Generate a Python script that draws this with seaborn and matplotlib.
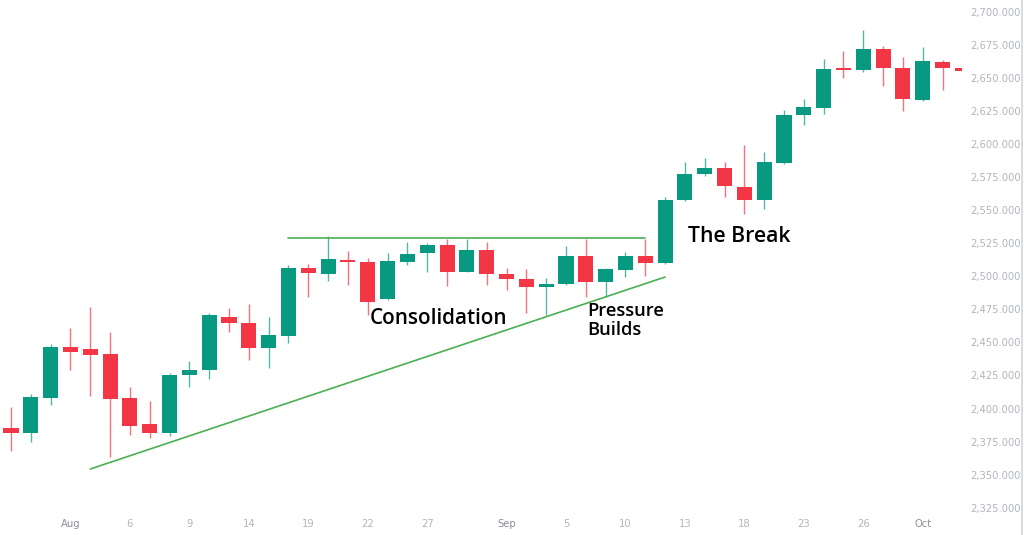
import matplotlib
matplotlib.use("Agg")
import matplotlib.pyplot as plt
import matplotlib.lines as mlines
import numpy as np
import pandas as pd
import seaborn as sns

# ---- data (XAUUSD daily, 2024-07-29 .. 2024-10-03) ----
opens = [2385.5, 2381.5, 2408.0, 2446.5, 2445.0, 2441.0, 2408.0, 2388.0, 2381.5, 2425.0,
         2429.0, 2469.0, 2465.0, 2445.5, 2455.0, 2506.5, 2502.0, 2512.5, 2510.5, 2483.0,
         2511.0, 2517.5, 2523.5, 2503.0, 2519.5, 2502.0, 2498.0, 2491.5, 2494.0, 2515.5,
         2496.0, 2505.0, 2515.5, 2510.0, 2557.5, 2577.0, 2581.5, 2567.5, 2557.5, 2585.5,
         2621.5, 2627.5, 2657.2, 2656.0, 2671.5, 2657.5, 2633.0, 2662.0, 2657.5]
highs = [2401.0, 2411.0, 2449.0, 2461.0, 2476.5, 2457.5, 2416.5, 2405.5, 2426.5, 2436.0,
         2472.0, 2476.0, 2479.0, 2469.0, 2508.5, 2509.0, 2530.5, 2519.0, 2514.0, 2517.5,
         2526.0, 2525.0, 2528.0, 2528.0, 2526.0, 2506.0, 2505.5, 2499.0, 2522.5, 2528.5,
         2506.0, 2518.0, 2528.5, 2560.0, 2586.0, 2589.5, 2586.0, 2599.5, 2594.0, 2625.5,
         2634.0, 2664.0, 2670.5, 2686.0, 2674.0, 2666.0, 2673.5, 2663.5, 2658.0]
lows = [2368.0, 2375.0, 2402.5, 2429.0, 2409.5, 2363.0, 2380.0, 2378.0, 2379.5, 2416.0,
        2422.5, 2457.5, 2436.5, 2431.0, 2449.5, 2484.5, 2496.5, 2493.5, 2470.5, 2482.0,
        2508.5, 2503.0, 2493.0, 2503.0, 2493.5, 2489.5, 2472.5, 2471.0, 2493.5, 2484.5,
        2484.5, 2499.5, 2500.0, 2509.5, 2556.5, 2575.5, 2560.0, 2547.0, 2551.0, 2584.5,
        2614.0, 2622.5, 2649.5, 2654.5, 2643.5, 2625.0, 2632.5, 2641.0, 2655.0]
closes = [2381.5, 2408.5, 2446.5, 2443.0, 2440.5, 2407.5, 2387.0, 2381.5, 2425.0, 2429.5,
          2470.5, 2465.0, 2445.5, 2455.5, 2506.0, 2502.5, 2513.0, 2510.5, 2480.5, 2511.5,
          2517.0, 2523.5, 2503.0, 2520.0, 2501.5, 2498.0, 2491.5, 2494.0, 2515.5, 2496.0,
          2505.5, 2515.5, 2510.0, 2558.0, 2577.0, 2581.5, 2568.0, 2558.0, 2586.0, 2621.5,
          2628.0, 2657.0, 2655.8, 2671.5, 2657.5, 2634.0, 2663.0, 2657.5, 2655.5]

tick_index = [3, 6, 9, 12, 15, 18, 21, 25, 28, 31, 34, 37, 40, 43, 46]
tick_labels = ["Aug", "6", "9", "14", "19", "22", "27", "Sep", "5", "10", "13", "18", "23", "26", "Oct"]
month_labels = {"Aug", "Sep", "Oct"}
price_ticks = list(range(2325, 2701, 25))

# trend lines (start index, end index, start price, end price)
resistance = {"x": [14, 32], "y": [2529.0, 2529.0]}
support = {"x": [4, 33], "y": [2354.3, 2499.4]}

annotations = [("Consolidation", 18.1, 2468.4, 14.9),
               ("The Break", 34.15, 2530.4, 15.3),
               ("Pressure", 29.05, 2473.8, 13.2),
               ("Builds", 29.05, 2459.5, 13.2)]

# ---- styling ----
sns.set_theme(style="white")
plt.rcParams["font.family"] = ["DejaVu Sans"]
UP = "#089981"
DOWN = "#f23645"
LINE = "#4caf50"
AXIS_TXT = "#b2b5be"

df = pd.DataFrame({"open": opens, "high": highs, "low": lows, "close": closes})
df["x"] = np.arange(len(df))
df["up"] = df["close"] >= df["open"]
df["color"] = np.where(df["up"], UP, DOWN)
df["bottom"] = df[["open", "close"]].min(axis=1)
df["height"] = (df["close"] - df["open"]).abs().clip(lower=1.3)

fig = plt.figure(figsize=(10.24, 5.35), dpi=100)
fig.patch.set_facecolor("white")
ax = fig.add_axes([0.0, 23 / 535, 962 / 1024, 512 / 535])
ax.set_facecolor("white")

# wicks
ax.vlines(df["x"], df["low"], df["high"], colors=df["color"], linewidth=1.0, alpha=0.7, zorder=2)
# bodies
ax.bar(df["x"], df["height"], bottom=df["bottom"], width=0.76, color=df["color"],
       edgecolor="none", linewidth=0, zorder=3)

# trend lines via seaborn
sns.lineplot(x=resistance["x"], y=resistance["y"], ax=ax, color=LINE, linewidth=1.2, zorder=4)
sns.lineplot(x=support["x"], y=support["y"], ax=ax, color=LINE, linewidth=1.2, zorder=4)

for text, x, y, size in annotations:
    ax.text(x, y, text, fontsize=size, fontweight="semibold", color="#000000",
            va="center", ha="left", family=["Open Sans", "DejaVu Sans"], zorder=5)

ax.set_xlim(-0.555, 47.98)
ax.set_ylim(2321.8, 2708.8)

ax.yaxis.tick_right()
ax.set_yticks(price_ticks)
ax.set_yticklabels([f"{p:,.3f}" for p in price_ticks])
ax.tick_params(axis="y", length=0, pad=6, labelsize=7.2, labelcolor=AXIS_TXT)

ax.set_xticks(tick_index)
ax.set_xticklabels(tick_labels)
ax.tick_params(axis="x", length=0, pad=5, labelsize=7.2, labelcolor=AXIS_TXT)
for lab in ax.get_xticklabels():
    if lab.get_text() in month_labels:
        lab.set_color("#8a8e99")

ax.grid(False)
for s in ax.spines.values():
    s.set_visible(False)

# light border on the right edge of the chart
fig.add_artist(mlines.Line2D([0.9985, 0.9985], [0, 1], transform=fig.transFigure,
                             color="#d1d4dc", linewidth=1.2))

fig.savefig("out.png", dpi=100, facecolor="white")
